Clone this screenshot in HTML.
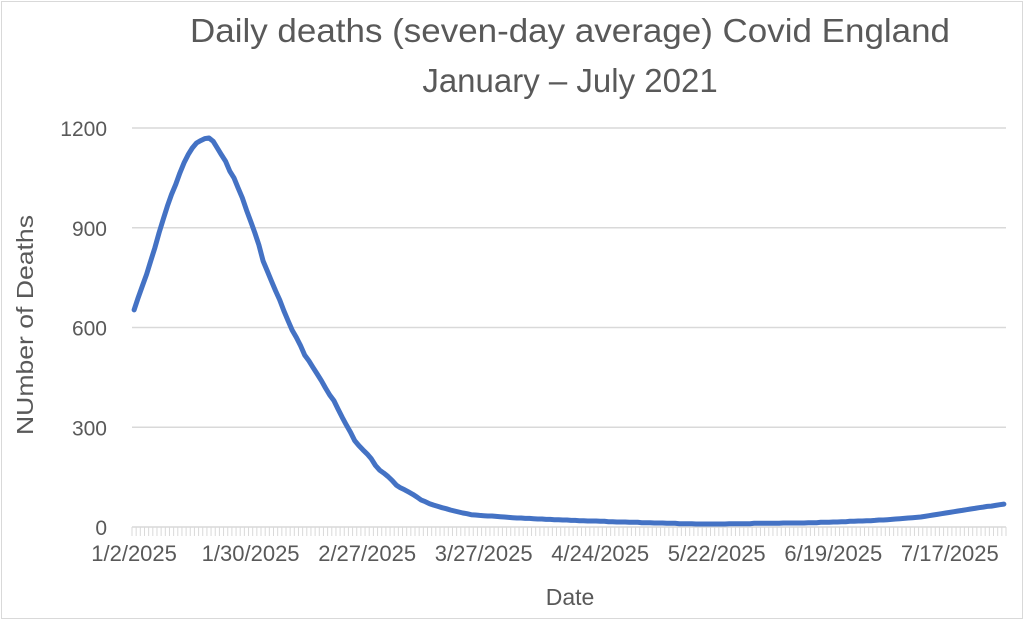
<!DOCTYPE html>
<html><head><meta charset="utf-8"><style>
body{margin:0;background:#fff;}
svg{display:block;font-family:"Liberation Sans",sans-serif;}
</style></head><body>
<svg width="1024" height="628">
<rect x="1.5" y="1.5" width="1021" height="617" fill="#fff" stroke="#d9d9d9"/>
<text x="570" y="42" font-size="33" fill="#595959" text-anchor="middle" textLength="760" lengthAdjust="spacingAndGlyphs">Daily deaths (seven-day average) Covid England</text>
<text x="570" y="92" font-size="33" fill="#595959" text-anchor="middle">January – July 2021</text>
<text transform="translate(33,325) rotate(-90)" font-size="23" fill="#595959" text-anchor="middle" textLength="220" lengthAdjust="spacingAndGlyphs">NUmber of Deaths</text>
<text x="570" y="605" font-size="23" fill="#595959" text-anchor="middle">Date</text>
<g id="grid"></g><g id="ticks"></g><g id="labels"></g>
<path id="line" fill="none" stroke="#4472c4" stroke-width="5" stroke-linejoin="round" stroke-linecap="round"/>
</svg>
<script>
const yTicks=[0,300,600,900,1200];
const startDate=[2025,0,2];
const values=[653,690,725,760,800,840,885,925,965,1000,1030,1065,1095,1120,1140,1155,1162,1168,1170,1160,1140,
1119,1100,1070,1050,1020,990,953,920,885,848,800,770,740,710,683,650,620,592,570,545,
517,500,480,460,440,418,397,380,355,330,307,285,260,245,232,220,205,185,171,162,
152,140,126,118,112,105,98,90,81,76,70,66,62,58,55,51,48,45,42,40,
37,36,35,34,33,33,32,31,30,29,28,27,27,26,26,25,24,24,23,23,
22,22,21,21,20,20,19,19,18,18,18,17,17,16,16,15,15,15,14,14,
14,13,13,13,12,12,12,11,11,11,10,10,10,10,9,9,9,9,9,9,
9,9,10,10,10,10,10,10,11,11,11,11,11,11,11,12,12,12,12,12,
12,13,13,13,14,14,14,15,15,16,16,17,17,18,18,19,19,20,21,21,
22,23,24,25,26,27,28,29,30,32,34,36,38,40,42,44,46,48,50,52,
54,56,58,60,62,63,65,67,69];
const NS="http://www.w3.org/2000/svg";
const X0=132,X1=1006,Y0=527,Y1=128,YMAX=1200;
const band=(X1-X0)/values.length;
const xs=i=>X0+band*(i+0.5);
const ys=v=>Y0-(v/YMAX)*(Y0-Y1);
const mk=(t,a,p)=>{const e=document.createElementNS(NS,t);for(const k in a)e.setAttribute(k,a[k]);p.appendChild(e);return e;};
const grid=document.getElementById('grid'),ticks=document.getElementById('ticks'),labels=document.getElementById('labels');
yTicks.forEach(v=>{
  const l=mk('line',{x1:X0,x2:X1,y1:ys(v),y2:ys(v),stroke:'#d9d9d9','stroke-width':1.5},grid);
  
  
  const t=mk('text',{x:107,y:ys(v)+8,'font-size':21,fill:'#595959','text-anchor':'end'},labels);
  t.textContent=v;
  
  
});
for(let i=0;i<=values.length;i++){
  const x=X0+band*i;
  const l=mk('line',{x1:x,x2:x,y1:Y0,y2:Y0+9,stroke:'#d9d9d9','stroke-width':1},ticks);
  
  
}
for(let i=0;i<values.length;i+=28){
  const d=new Date(startDate[0],startDate[1],startDate[2]+i);
  const t=mk('text',{x:xs(i),y:561,'font-size':22,fill:'#595959','text-anchor':'middle'},labels);
  t.textContent=(d.getMonth()+1)+'/'+d.getDate()+'/'+d.getFullYear();
  
  
}
document.getElementById('line').setAttribute('d',values.map((v,i)=>(i?'L':'M')+xs(i).toFixed(1)+' '+ys(v).toFixed(1)).join(''));
</script>
</body></html>
